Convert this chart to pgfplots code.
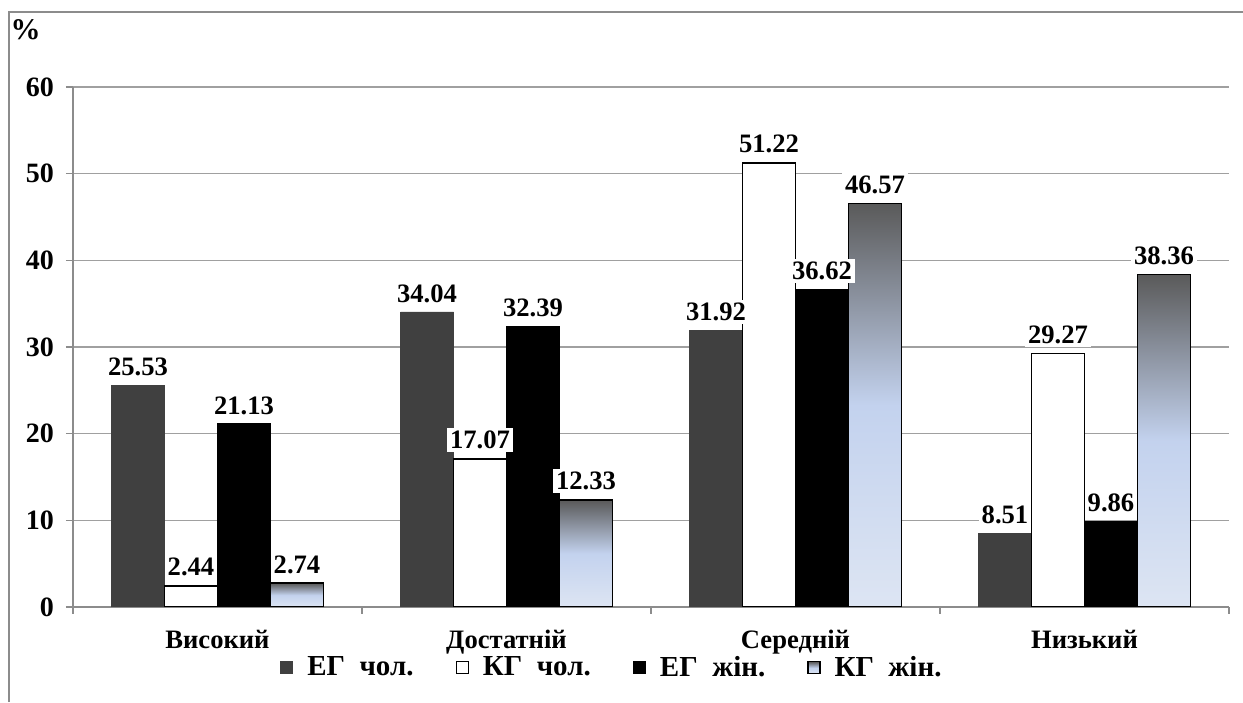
\documentclass[border=0pt]{standalone}
\usepackage{pgfplots}
\pgfplotsset{compat=1.18}
\usepackage{fontspec}
\setmainfont{Liberation Serif}
\definecolor{eg}{HTML}{404040}
\definecolor{gtop}{HTML}{5A5A5A}
\definecolor{gmid}{HTML}{C3D2EE}
\definecolor{gbot}{HTML}{DDE5F3}
\definecolor{gridc}{HTML}{A0A0A0}
\definecolor{axc}{HTML}{8C8C8C}
\begin{document}
\begin{tikzpicture}
\begin{axis}[
 at={(36.5pt,47.5pt)}, anchor=south west,
 scale only axis, width=578pt, height=260pt,
 ymin=0, ymax=60, ytick={0,10,...,60},
 xmin=-0.5, xmax=3.5,
 xtick={0,1,2,3}, xticklabels={Високий,Достатній,Середній,Низький},
 minor xtick={-0.5,0.5,1.5,2.5,3.5},
 ybar=0pt, bar width=26.5pt,
 axis x line*=bottom, axis y line*=left,
 axis line style={axc, line width=0.7pt, -},
 ymajorgrids, grid style={gridc, line width=0.8pt},
 tick align=outside, major tick length=3.5pt, minor tick length=3.5pt,
 tick style={axc, line width=0.7pt},
 minor tick style={axc, line width=0.7pt},
 major x tick style={draw=none},
 /pgf/number format/assume math mode=true,
 yticklabel style={font=\bfseries\fontsize{14}{16}\selectfont, text=black, xshift=-2.5pt},
 xticklabel style={font=\bfseries\fontsize{13.3}{15}\selectfont, text=black, yshift=-4.5pt},
 nodes near coords={\pgfmathprintnumber[fixed, precision=2, fixed zerofill, assume math mode=true]{\pgfplotspointmeta}},
 every node near coord/.append style={font=\bfseries\fontsize{13.3}{15}\selectfont, fill=white, text=black, inner sep=1.5pt, yshift=3pt},
 legend style={at={(0.467,-0.117)}, anchor=center, draw=none, fill=none, legend columns=4,
   font=\bfseries\fontsize{14.5}{16}\selectfont,
   /tikz/every odd column/.append style={column sep=5pt},
   /tikz/every even column/.append style={column sep=19pt}},
 legend image code/.code={\draw[#1, line width=0.6pt] (0pt,-3pt) rectangle (6pt,3pt);},
]
\addplot[fill=eg, draw=eg, bar shift=-39.75pt] coordinates {(0,25.53) (1,34.04) (2,31.92) (3,8.51)};
\addplot[fill=white, draw=black, line width=0.8pt, bar shift=-13.25pt] coordinates {(0,2.44) (1,17.07) (2,51.22) (3,29.27)};
\addplot[fill=black, draw=black, bar shift=13.25pt] coordinates {(0,21.13) (1,32.39) (2,36.62) (3,9.86)};
\addplot[top color=gtop, bottom color=gbot, middle color=gmid, draw=black, line width=0.8pt, bar shift=39.75pt] coordinates {(0,2.74)};
\addplot[forget plot, top color=gtop, bottom color=gbot, middle color=gmid, draw=black, line width=0.8pt, bar shift=39.75pt] coordinates {(1,12.33)};
\addplot[forget plot, top color=gtop, bottom color=gbot, middle color=gmid, draw=black, line width=0.8pt, bar shift=39.75pt] coordinates {(2,46.57)};
\addplot[forget plot, top color=gtop, bottom color=gbot, middle color=gmid, draw=black, line width=0.8pt, bar shift=39.75pt] coordinates {(3,38.36)};
\legend{ЕГ\ \ чол., КГ\ \ чол., ЕГ\ \ жін., КГ\ \ жін.}
\end{axis}
\draw[axc, line width=0.75pt] (4.5pt,0pt) -- (4.5pt,345pt) -- (621.5pt,345pt);
\node[font=\bfseries\fontsize{15}{17}\selectfont] at (12.8pt,336pt) {\%};
\pgfresetboundingbox
\path (0pt,0pt) rectangle (621.5pt,351pt);
\end{tikzpicture}
\end{document}
